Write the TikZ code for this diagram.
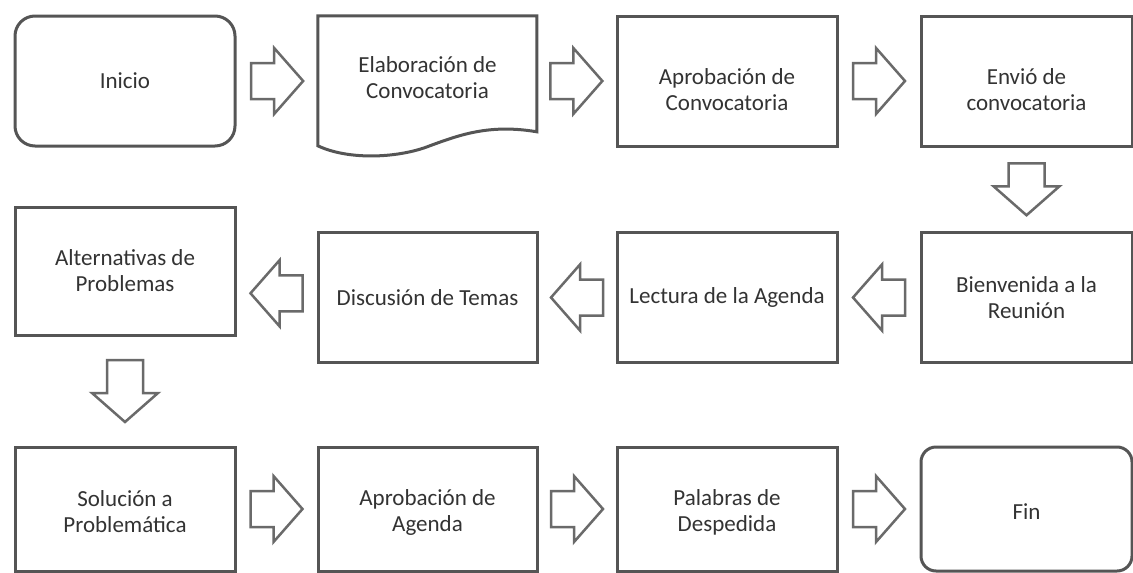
\documentclass[tikz,border=0pt]{standalone}
\usepackage{fontspec}
\setmainfont{Carlito}
\usetikzlibrary{calc}
\definecolor{boxline}{HTML}{555555}
\definecolor{arrline}{HTML}{6A6A6A}
\definecolor{txtcol}{HTML}{333333}
\tikzset{
  box/.style={draw=boxline, line width=3pt, fill=white, inner sep=0pt,
    minimum width=220pt, minimum height=130pt},
  rbox/.style={box, rounded corners=20pt},
  ghost/.style={inner sep=0pt, minimum width=219pt, minimum height=130pt},
  txt/.style={text=txtcol, align=center, font=\fontsize{23}{26}\selectfont, inner sep=0pt},
  pics/barrow/.style={code={
    \draw[draw=arrline, line width=2.5pt, fill=white, line join=miter]
      (-#1,-18) -- (#1-29,-18) -- (#1-29,-33) -- (#1,0) -- (#1-29,33)
      -- (#1-29,18) -- (-#1,18) -- cycle;}},
  pics/barrow/.default=26
}
\begin{document}
\begin{tikzpicture}[x=1pt,y=-1pt]
\fill[white] (0,0) rectangle (1133,573);
\useasboundingbox (0,0) rectangle (1133,573);

% ---- row 1
\node[rbox] (inicio) at (125,81) {};
\node[txt] (inicioT) at (inicio) {Inicio};

\node[ghost] (elab) at (427.5,81) {};
\begin{scope}[shift={(elab.north west)}]
  \draw[draw=boxline, line width=3pt, fill=white, line join=miter]
    (0,0) -- (219,0) -- (219,116)
    .. controls (172,108) and (142,119) .. (112,130)
    .. controls (82,142) and (32,145) .. (0,130) -- cycle;
\end{scope}
\node[txt] (elabT) at ($(elab.center)+(0,-3)$) {Elaboración de\\Convocatoria};

\node[box] (aprob) at (727,81) {};
\node[txt] (aprobT) at ($(aprob.center)+(0,9)$) {Aprobación de\\Convocatoria};

\node[box, minimum width=211pt] (envio) at (1026.5,81) {};
\node[txt] (envioT) at ($(envio.center)+(0,9)$) {Envió de\\convocatoria};

% ---- row 2
\node[box, minimum width=211pt] (bien) at (1026.5,297.5) {};
\node[txt] (bienT) at (bien) {Bienvenida a la\\Reunión};

\node[box] (lect) at (727,297.5) {};
\node[txt] (lectT) at (lect) {Lectura de la Agenda};

\node[ghost, draw=boxline, line width=3pt, fill=white] (disc) at (427.5,297.5) {};
\node[txt] (discT) at (disc) {Discusión de Temas};

\node[box, minimum height=128pt] (alt) at (125,271) {};
\node[txt] (altT) at (alt) {Alternativas de\\Problemas};

% ---- row 3
\node[box, minimum height=124pt] (sol) at (125,509) {};
\node[txt] (solT) at ($(sol.center)+(0,3)$) {Solución a\\Problemática};

\node[ghost, draw=boxline, line width=3pt, fill=white, minimum height=124pt] (agenda) at (427.5,509) {};
\node[txt] (agendaT) at ($(agenda.center)+(0,3)$) {Aprobación de\\Agenda};

\node[box, minimum height=124pt] (pal) at (727,509) {};
\node[txt] (palT) at ($(pal.center)+(0,3)$) {Palabras de\\Despedida};

\node[rbox, minimum width=211pt, minimum height=124pt, rounded corners=15pt] (fin) at (1026.5,509) {};
\node[txt] (finT) at ($(fin.center)+(0,3)$) {Fin};

% ---- block arrows (connectors)
\pic at ($(inicio.east)!0.5!(elab.west)$) {barrow};
\pic at ($(elab.east)!0.5!(aprob.west)$) {barrow};
\pic at ($(aprob.east)!0.5!(envio.west)$) {barrow};
\pic[rotate=-90] at ($(envio.south)!0.5!(bien.north)$) {barrow};
\pic[rotate=180] at ($(bien.west)!0.5!(lect.east)$) {barrow};
\pic[rotate=180] at ($(lect.west)!0.5!(disc.east)$) {barrow};
\pic[rotate=180] at ($($(disc.west)!0.5!(alt.east)$)+(0,9)$) {barrow};
\pic[rotate=-90] at ($(alt.south)!0.5!(sol.north)$) {barrow=31};
\pic at ($(sol.east)!0.5!(agenda.west)$) {barrow};
\pic at ($(agenda.east)!0.5!(pal.west)$) {barrow};
\pic at ($(pal.east)!0.5!(fin.west)$) {barrow};
\end{tikzpicture}
\end{document}
